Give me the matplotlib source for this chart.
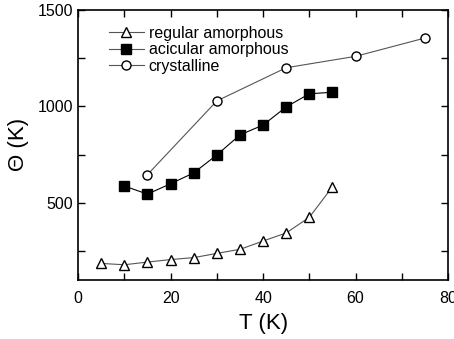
import numpy as np
import matplotlib.pyplot as plt
from matplotlib.ticker import MultipleLocator

plt.rcParams['font.family'] = ['Liberation Sans', 'DejaVu Sans']

# data
T_reg = [5, 10, 15, 20, 25, 30, 35, 40, 45, 50, 55]
theta_reg = [186, 179, 193, 206, 216, 238, 259, 302, 344, 425, 583]
T_aci = [10, 15, 20, 25, 30, 35, 40, 45, 50, 55]
theta_aci = [587, 545, 599, 655, 748, 852, 903, 997, 1065, 1073]
T_cry = [15, 30, 45, 60, 75]
theta_cry = [646, 1028, 1200, 1259, 1354]

fig = plt.figure(figsize=(4.54, 3.39), dpi=100)
ax = fig.add_axes([0.172, 0.174, 0.815, 0.797])

ax.plot(T_reg, theta_reg, '-^', color='#555555', lw=0.8, ms=7.5, mfc='white',
        mec='black', mew=1.0, label='regular amorphous')
ax.plot(T_aci, theta_aci, '-s', color='black', lw=0.8, ms=6.5, mfc='black',
        mec='black', label='acicular amorphous')
ax.plot(T_cry, theta_cry, '-o', color='#555555', lw=0.8, ms=6.5, mfc='white',
        mec='black', mew=1.0, label='crystalline')

ax.set_xlim(0, 80)
ax.set_ylim(100, 1500)
ax.xaxis.set_major_locator(MultipleLocator(20))
ax.xaxis.set_minor_locator(MultipleLocator(10))
ax.set_yticks([500, 1000, 1500])
ax.yaxis.set_minor_locator(MultipleLocator(250))
ax.tick_params(which='both', direction='in', top=True, right=True, labelsize=11.5)
ax.tick_params(which='major', length=5, width=1)
ax.tick_params(which='minor', length=5, width=1)
ax.tick_params(axis='x', pad=8)
for s in ax.spines.values():
    s.set_linewidth(1.2)

ax.set_xlabel('T (K)', fontsize=16, labelpad=5)
ax.set_ylabel('Θ (K)', fontsize=16, labelpad=6)

leg = ax.legend(loc='upper left', frameon=False, fontsize=11.5, handlelength=2.2,
                handletextpad=0.3, labelspacing=0.1, borderaxespad=0.6,
                bbox_to_anchor=(0.04, 1.0))
for h in leg.get_lines():
    h.set_color('#555555')

fig.savefig('out.png', dpi=100)
